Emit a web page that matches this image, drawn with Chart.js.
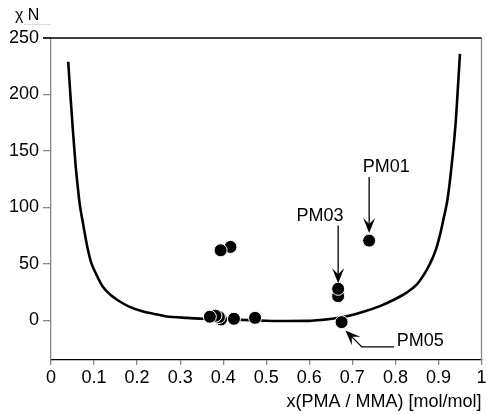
<!DOCTYPE html>
<html>
<head>
<meta charset="utf-8">
<script src="https://cdn.jsdelivr.net/npm/chart.js@4/dist/chart.umd.min.js"></script>
<style>
  html, body { margin: 0; padding: 0; background: #fff; }
  #wrap { width: 489px; height: 414px; }
</style>
</head>
<body>
<div id="wrap"><canvas id="c" width="489" height="414"></canvas></div>
<script>
// ---- data ----
const curveX = [0.040,0.045,0.0513,0.057,0.0628,0.0667,0.0743,0.085,0.0936,0.105,0.120,0.140,0.159,0.180,0.212,0.240,0.266,0.316,0.360,0.400,0.460,0.500,0.550,0.600,0.630,0.657,0.687,0.720,0.764,0.800,0.825,0.850,0.864,0.880,0.894,0.905,0.913,0.921,0.930,0.940,0.945,0.950];
const curveY = [229,200,166,138,116,103,86,64,51,41,30,22,17,12.5,8.2,5.8,3.8,2.3,1.5,1.0,0.3,-0.2,-0.5,-0.4,0.5,1.8,3.8,7,12.7,19,24.4,32,39.2,50,62.7,78,92,107,135,175,205,236];

const sampleX = [0.395,0.390,0.382,0.369,0.425,0.474,0.417,0.394,0.667,0.667,0.739,0.675];
const sampleY = [0.9,3.0,4.2,3.3,1.5,2.3,65.1,62.1,21.5,28.0,70.7,-1.5];

const xTickValues = [0,0.1,0.2,0.3,0.4,0.5,0.6,0.7,0.8,0.9,1];
const xTickLabels = ['0','0.1','0.2','0.3','0.4','0.5','0.6','0.7','0.8','0.9','1'];
const yTickValues = [0,50,100,150,200,250];
const yTickLabels = ['0','50','100','150','200','250'];

const sampleNames = ['PM01','PM03','PM05'];
const xTitle = 'x(PMA / MMA) [mol/mol]';
const yTitle = 'χ N';

// annotation placement (data units)
const annot = [
  { name: sampleNames[0], tx: 0.779, ty: 136, type: 'down', ax: 0.739, y0: 127, y1: 77.5 },
  { name: sampleNames[1], tx: 0.625, ty: 92,  type: 'down', ax: 0.667, y0: 84,  y1: 33 },
  { name: sampleNames[2], tx: 0.803, ty: -18.6, type: 'elbow', hx0: 0.797, hx1: 0.722, hy: -23.4, tipx: 0.684, tipy: -8.8 }
];

const FONT = "'Liberation Sans', Arial, Helvetica, sans-serif";

function arrowHead(ctx, tx, ty, fx, fy) {
  const ang = Math.atan2(ty - fy, tx - fx);
  const L = 15, W = 6, N = 9;
  ctx.save();
  ctx.translate(tx, ty);
  ctx.rotate(ang);
  ctx.beginPath();
  ctx.moveTo(0, 0);
  ctx.lineTo(-L, -W);
  ctx.lineTo(-N, 0);
  ctx.lineTo(-L, W);
  ctx.closePath();
  ctx.fillStyle = '#000';
  ctx.fill();
  ctx.restore();
}

const decor = {
  id: 'decor',
  afterDraw(chart) {
    const { ctx, chartArea: a, scales: { x, y } } = chart;
    ctx.save();
    // right frame line (grey)
    ctx.strokeStyle = '#888';
    ctx.lineWidth = 1.3;
    ctx.beginPath();
    ctx.moveTo(a.right, a.top);
    ctx.lineTo(a.right, a.bottom);
    ctx.stroke();
    // top frame line (black) incl. 250 tick
    ctx.strokeStyle = '#000';
    ctx.lineWidth = 1.3;
    ctx.beginPath();
    ctx.moveTo(a.left - 8, a.top);
    ctx.lineTo(a.right, a.top);
    ctx.stroke();

    // y title
    ctx.fillStyle = '#000';
    ctx.font = '16px ' + FONT;
    ctx.textAlign = 'left';
    ctx.textBaseline = 'alphabetic';
    ctx.fillText(yTitle, 15, 20);
    ctx.strokeStyle = '#ddd';
    ctx.lineWidth = 1;
    ctx.beginPath();
    ctx.moveTo(24, 24.5);
    ctx.lineTo(51, 24.5);
    ctx.stroke();

    // annotations
    ctx.font = '18px ' + FONT;
    ctx.textBaseline = 'middle';
    ctx.strokeStyle = '#000';
    ctx.lineWidth = 1.3;
    annot.forEach(an => {
      ctx.fillStyle = '#000';
      if (an.type === 'down') {
        ctx.textAlign = 'center';
        ctx.fillText(an.name, x.getPixelForValue(an.tx), y.getPixelForValue(an.ty));
        const px = x.getPixelForValue(an.ax);
        const p0 = y.getPixelForValue(an.y0), p1 = y.getPixelForValue(an.y1);
        ctx.beginPath();
        ctx.moveTo(px, p0);
        ctx.lineTo(px, p1 - 8);
        ctx.stroke();
        arrowHead(ctx, px, p1, px, p0);
      } else {
        ctx.textAlign = 'left';
        ctx.fillText(an.name, x.getPixelForValue(an.tx), y.getPixelForValue(an.ty));
        const h0 = x.getPixelForValue(an.hx0), h1 = x.getPixelForValue(an.hx1);
        const hy = y.getPixelForValue(an.hy);
        const tx = x.getPixelForValue(an.tipx), ty = y.getPixelForValue(an.tipy);
        ctx.beginPath();
        ctx.moveTo(h0, hy);
        ctx.lineTo(h1, hy);
        ctx.lineTo(tx + 5, ty + 5);
        ctx.stroke();
        arrowHead(ctx, tx, ty, h1, hy);
      }
    });
    ctx.restore();
  }
};

const curvePts = curveX.map((v, i) => ({ x: v, y: curveY[i] }));
const samplePts = sampleX.map((v, i) => ({ x: v, y: sampleY[i] }));

new Chart(document.getElementById('c'), {
  type: 'scatter',
  data: {
    datasets: [
      {
        label: 'samples',
        data: samplePts,
        pointRadius: 6.5,
        pointHoverRadius: 6.5,
        pointBackgroundColor: '#000',
        pointBorderColor: '#fff',
        pointBorderWidth: 1,
        showLine: false
      },
      {
        label: 'spinodal',
        data: curvePts,
        showLine: true,
        borderColor: '#000',
        borderWidth: 2.6,
        pointRadius: 0,
        cubicInterpolationMode: 'monotone',
        fill: false
      }
    ]
  },
  plugins: [decor],
  options: {
    responsive: false,
    animation: false,
    events: [],
    layout: { padding: { top: 38, right: 3, left: 0, bottom: 0 } },
    plugins: { legend: { display: false }, tooltip: { enabled: false } },
    scales: {
      x: {
        type: 'linear',
        min: 0, max: 1,
        afterFit(s) { s.height = 54; },
        afterBuildTicks(s) { s.ticks = xTickValues.map(v => ({ value: v })); },
        ticks: {
          autoSkip: false,
          maxRotation: 0,
          color: '#000',
          font: { family: FONT, size: 18 },
          padding: 2,
          callback: (v) => { const i = xTickValues.findIndex(t => Math.abs(t - v) < 1e-9); return i >= 0 ? xTickLabels[i] : ''; }
        },
        grid: { drawOnChartArea: false, drawTicks: true, tickLength: 5, color: '#888', lineWidth: 1.3 },
        border: { display: true, color: '#000', width: 1.3 },
        title: { display: true, text: xTitle, align: 'end', color: '#000', font: { family: FONT, size: 18 }, padding: { top: 0, bottom: 1 } }
      },
      y: {
        type: 'linear',
        min: -35, max: 250,
        afterFit(s) { s.width = 51; },
        afterBuildTicks(s) { s.ticks = yTickValues.map(v => ({ value: v })); },
        ticks: {
          autoSkip: false,
          color: '#000',
          font: { family: FONT, size: 18 },
          padding: 4,
          callback: (v) => { const i = yTickValues.indexOf(v); return i >= 0 ? yTickLabels[i] : ''; }
        },
        grid: { drawOnChartArea: false, drawTicks: true, tickLength: 8, color: '#888', lineWidth: 1.3 },
        border: { display: true, color: '#888', width: 1.3 }
      }
    }
  }
});
</script>
</body>
</html>
